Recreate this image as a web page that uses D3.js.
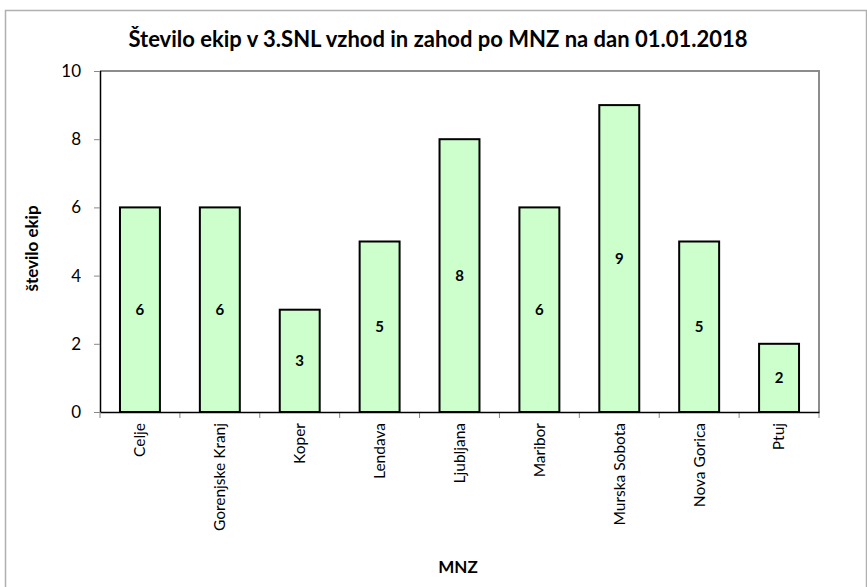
<!DOCTYPE html>
<html>
<head>
<meta charset="utf-8">
<script src="https://cdn.jsdelivr.net/npm/d3@7"></script>
<style>
  body { margin: 0; background: #fff; }
  text { font-family: Lato, "Open Sans", sans-serif; fill: #000; }
  .tick text { fill: #000; }
</style>
</head>
<body>
<svg id="chart" width="867" height="587"></svg>
<script>
let categories = ["Celje", "Gorenjske Kranj", "Koper", "Lendava", "Ljubljana",
  "Maribor", "Murska Sobota", "Nova Gorica", "Ptuj"];
let teams = [6, 6, 3, 5, 8, 6, 9, 5, 2];
let yTicks = [0, 2, 4, 6, 8, 10];

let margin = {top: 71, right: 48, bottom: 175, left: 100};

let svg = d3.select("#chart"),
width = +svg.attr("width") - margin.left - margin.right,
height = +svg.attr("height") - margin.top - margin.bottom;

// outer chart border
svg.append("rect").
attr("x", 5.5).
attr("y", 10.5).
attr("width", 861).
attr("height", 620).
attr("fill", "none").
attr("stroke", "#b0b0b0").
attr("stroke-width", 1.5);

svg.append("text").
attr("x", 438).
attr("y", 47).
attr("text-anchor", "middle").
style("font-size", "22px").
style("font-weight", "bold").
text("Število ekip v 3.SNL vzhod in zahod po MNZ na dan 01.01.2018");

let g = svg.append("g").
attr("transform", "translate(" + margin.left + "," + margin.top + ")");

let x = d3.scaleBand().
domain(categories).
range([0, width]).
paddingInner(0.5).
paddingOuter(0.25);

let y = d3.scaleLinear().
domain([0, 10]).
range([height, 0]);

// plot area border (top and right)
g.append("path").
attr("d", "M0,0H" + width + "V" + height).
attr("fill", "none").
attr("stroke", "#8c8c8c").
attr("stroke-width", 2);

let yAxis = g.append("g").
call(d3.axisLeft(y).tickValues(yTicks).tickSize(6).tickPadding(13).tickFormat(d3.format("d")));
yAxis.select(".domain").attr("stroke", "#000").attr("stroke-width", 1.5).attr("d", "M0.5,0V" + height);
yAxis.selectAll(".tick line").attr("stroke", "#888");
yAxis.selectAll(".tick text").style("font-size", "17px");

g.selectAll(".bar").
data(teams).
enter().append("rect").
attr("class", "bar").
attr("x", (d, i) => x(categories[i])).
attr("y", d => y(d)).
attr("width", x.bandwidth()).
attr("height", d => height - y(d)).
attr("fill", "#ccffcc").
attr("stroke", "#000").
attr("stroke-width", 2);

g.selectAll(".val").
data(teams).
enter().append("text").
attr("class", "val").
attr("x", (d, i) => x(categories[i]) + x.bandwidth() / 2).
attr("y", d => (y(d) + height) / 2).
attr("dy", "0.35em").
attr("text-anchor", "middle").
style("font-size", "15px").
style("font-weight", "bold").
text(d => d);

// category boundary ticks
let step = x.step();
let bounds = d3.range(categories.length + 1).map(i => x(categories[0]) - step / 4 + i * step);
g.selectAll(".xtick").
data(bounds).
enter().append("line").
attr("class", "xtick").
attr("x1", d => d).
attr("x2", d => d).
attr("y1", height).
attr("y2", height + 6).
attr("stroke", "#888");

let xAxis = g.append("g").
attr("transform", "translate(0," + height + ")").
call(d3.axisBottom(x).tickSize(0).tickPadding(0));
xAxis.select(".domain").attr("stroke", "#000").attr("stroke-width", 1.5);
xAxis.selectAll(".tick text").
attr("transform", "rotate(-90)").
attr("x", -11).
attr("y", 0).
attr("dy", "0.35em").
attr("text-anchor", "end").
style("font-size", "15.5px");

svg.append("text").
attr("transform", "translate(38," + (margin.top + height / 2 + 7) + ") rotate(-90)").
attr("text-anchor", "middle").
style("font-size", "17px").
style("font-weight", "bold").
text("število ekip");

svg.append("text").
attr("x", 458).
attr("y", 573).
attr("text-anchor", "middle").
style("font-size", "17px").
style("font-weight", "bold").
text("MNZ");
</script>
</body>
</html>
